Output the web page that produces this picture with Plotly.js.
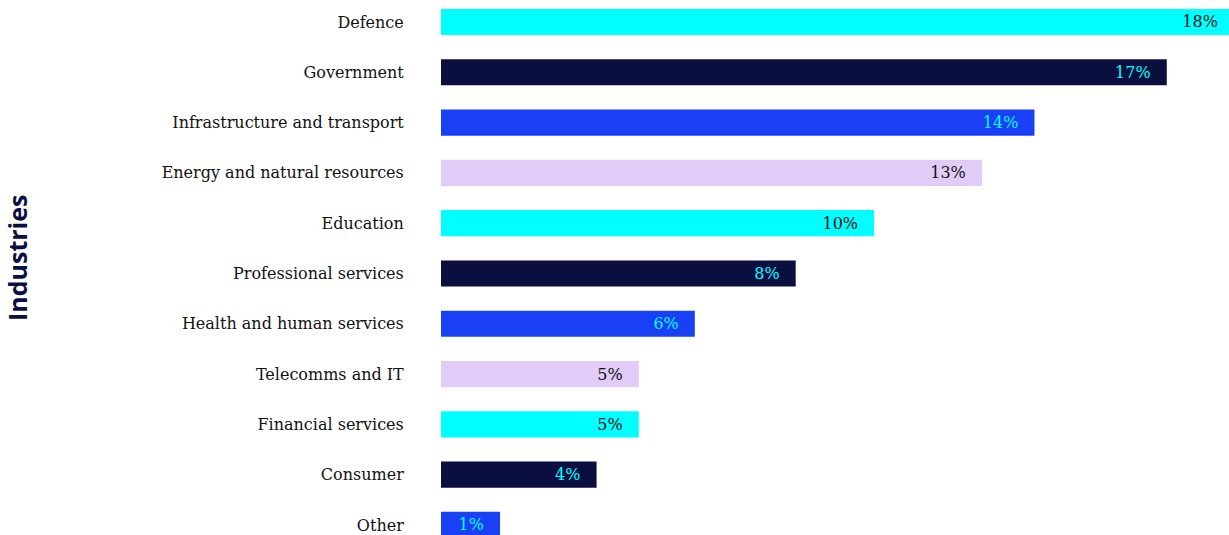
<!DOCTYPE html>
<html>
<head>
<meta charset="utf-8">
<script src="https://cdn.plot.ly/plotly-3.0.1.min.js"></script>
<style>html,body{margin:0;padding:0;background:#fff;overflow:hidden;}#chart{width:1234px;height:535px;}</style>
</head>
<body>
<div id="chart"></div>
<script>
const categories = ["Defence","Government","Infrastructure and transport","Energy and natural resources","Education","Professional services","Health and human services","Telecomms and IT","Financial services","Consumer","Other"];
const values = [18.4, 16.84, 13.77, 12.55, 10.05, 8.23, 5.89, 4.59, 4.59, 3.61, 1.37];
const labels = ["18%","17%","14%","13%","10%","8%","6%","5%","5%","4%","1%"];
const barColors = ["#00FFFF","#0A0F40","#1A40F5","#E0CCF7","#00FFFF","#0A0F40","#1A40F5","#E0CCF7","#00FFFF","#0A0F40","#1A40F5"];
const labelColors = ["#111111","#00FFFF","#00FFFF","#111111","#111111","#00FFFF","#00FFFF","#111111","#111111","#00FFFF","#00FFFF"];
const axisTitle = "Industries";

const trace = {
  type: "bar",
  orientation: "h",
  y: categories,
  x: values,
  text: labels.map(t => t + "\u2002\u00a0"),
  textposition: "inside",
  insidetextanchor: "end",
  insidetextfont: {family: "DejaVu Serif", size: 16, color: labelColors},
  marker: {color: barColors},
  hoverinfo: "none"
};

const plotLeft = 441, plotWidth = 1234 - 441;

const layout = {
  width: 1234, height: 535,
  margin: {l: plotLeft, r: 0, t: 0, b: 0, pad: 0},
  paper_bgcolor: "#ffffff", plot_bgcolor: "#ffffff",
  bargap: 0.48,
  showlegend: false,
  xaxis: {range: [0, 18.4], visible: false, fixedrange: true},
  yaxis: {
    type: "category",
    range: [10.2, -0.437],
    showgrid: false, zeroline: false, showline: false,
    ticks: "outside", ticklen: 33, tickcolor: "rgba(0,0,0,0)",
    tickfont: {family: "DejaVu Serif", size: 16, color: "#111111"},
    automargin: false
  },
  annotations: [{
    text: axisTitle,
    xref: "paper", yref: "paper",
    x: (17 - plotLeft) / plotWidth, y: 1 - 258 / 535,
    xanchor: "center", yanchor: "middle",
    textangle: -90, showarrow: false,
    font: {family: "Open Sans", size: 25, color: "#0A0F40", weight: "bold"}
  }],
  font: {family: "DejaVu Serif"}
};

Plotly.newPlot("chart", [trace], layout, {displayModeBar: false, staticPlot: true});
</script>
</body>
</html>
